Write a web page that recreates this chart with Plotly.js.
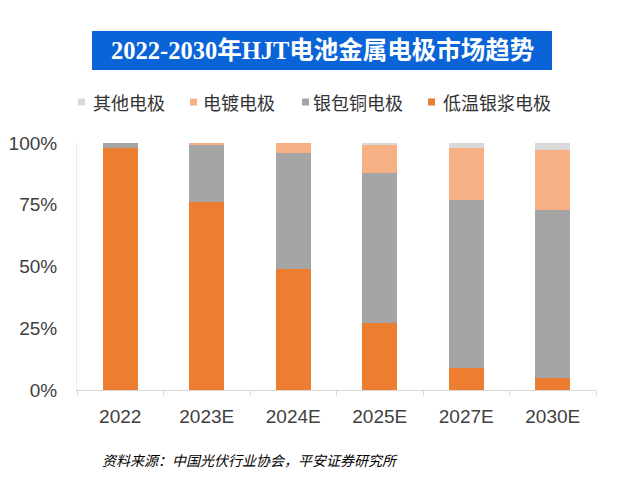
<!DOCTYPE html>
<html>
<head>
<meta charset="utf-8">
<script src="https://cdn.plot.ly/plotly-3.0.1.min.js"></script>
<style>html,body{margin:0;padding:0;background:#fff;}#chart{width:619px;height:490px;}</style>
</head>
<body>
<div id="chart"></div>
<script>
const categories = ["2022", "2023E", "2024E", "2025E", "2027E", "2030E"];
const lowTempSilver = [0.98, 0.76, 0.49, 0.27, 0.09, 0.05];   // 低温银浆电极
const silverCopper  = [0.02, 0.23, 0.47, 0.61, 0.68, 0.68];   // 银包铜电极
const plating       = [0.00, 0.01, 0.04, 0.11, 0.21, 0.24];   // 电镀电极
const others        = [0.00, 0.00, 0.00, 0.01, 0.02, 0.03];   // 其他电极
const seriesNames = ["低温银浆电极", "银包铜电极", "电镀电极", "其他电极"];
const yTickVals = [0, 0.25, 0.5, 0.75, 1];
const yTickText = ["0%", "25%", "50%", "75%", "100%"];

const colors = ["#ED7D31", "#A5A5A5", "#F6B083", "#D9D9D9"];
const seriesData = [lowTempSilver, silverCopper, plating, others];

const traces = seriesData.map((vals, i) => ({
  type: "bar",
  name: seriesNames[i],
  x: categories,
  y: vals,
  width: 0.4,
  marker: {color: colors[i], line: {width: 0}},
  hoverinfo: "skip",
  showlegend: false
}));

// Plot area in pixels (for placing the custom legend)
const M = {l: 77, r: 23, t: 143, b: 100};
const W = 619, H = 490;
const pw = W - M.l - M.r, ph = H - M.t - M.b;
const px = v => (v - M.l) / pw;
const py = v => (H - M.b - v) / ph;

// custom legend (display order: reversed stack order)
const legendOrder = [3, 2, 1, 0];
const legendSquareLeft = [78, 190, 302, 428];
const legendTextLeft = [92, 202, 312, 442];
const legendShapes = legendOrder.map((si, k) => ({
  type: "rect", xref: "paper", yref: "paper",
  x0: px(legendSquareLeft[k]), x1: px(legendSquareLeft[k] + 7),
  y0: py(105.5), y1: py(98.5),
  fillcolor: colors[si], line: {width: 0}
}));
const legendAnns = legendOrder.map((si, k) => ({
  text: seriesNames[si], xref: "paper", yref: "paper",
  x: px(legendTextLeft[k]), y: py(102.5), xanchor: "left", yanchor: "middle",
  showarrow: false, xshift: -1,
  font: {size: 18, color: "#333", family: "Noto Sans CJK SC, sans-serif"}
}));

const layout = {
  width: W, height: H,
  margin: M,
  paper_bgcolor: "#fff", plot_bgcolor: "#fff",
  barmode: "stack",
  font: {family: "Liberation Sans, Arial, Noto Sans CJK SC, sans-serif", color: "#404040"},
  xaxis: {
    type: "category",
    showgrid: false,
    showline: true, linecolor: "#D9D9D9", linewidth: 1,
    ticks: "outside", tickson: "boundaries", ticklen: 5, tickcolor: "#D9D9D9",
    tickfont: {size: 19, color: "#404040"},
    ticklabelstandoff: 9,
    zeroline: false
  },
  yaxis: {
    range: [0, 1],
    showgrid: false, zeroline: false,
    showline: true, linecolor: "#EBEBEB", linewidth: 1,
    tickvals: yTickVals, ticktext: yTickText,
    ticks: "", tickfont: {size: 19, color: "#404040"},
    ticklabelstandoff: 15
  },
  showlegend: false,
  shapes: [{
    type: "rect", xref: "paper", yref: "paper",
    x0: px(92), x1: px(552), y0: py(70), y1: py(31),
    fillcolor: "#0A64D8", line: {width: 0}, layer: "below"
  }].concat(legendShapes),
  annotations: [{
    text: "<b>2022-2030年HJT电池金属电极市场趋势</b>",
    xref: "paper", yref: "paper", x: px(322), y: py(50.5),
    xanchor: "center", yanchor: "middle", showarrow: false,
    font: {size: 24.5, color: "#fff", family: "Liberation Serif, Noto Sans CJK SC, serif"}
  }, {
    text: "<i>资料来源：中国光伏行业协会，平安证券研究所</i>",
    xref: "paper", yref: "paper", x: px(100), y: py(460),
    xanchor: "left", yanchor: "middle", showarrow: false,
    font: {size: 14, color: "#000", family: "Noto Sans CJK SC, sans-serif"}
  }].concat(legendAnns)
};

Plotly.newPlot("chart", traces, layout, {displayModeBar: false, staticPlot: true});
</script>
</body>
</html>
